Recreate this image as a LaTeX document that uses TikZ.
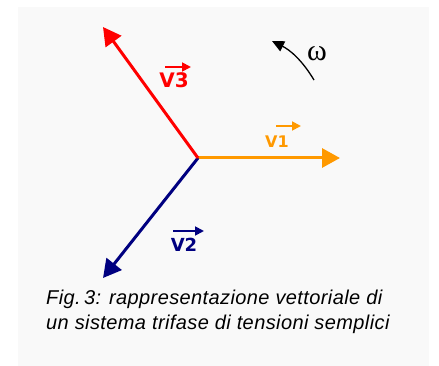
\documentclass[tikz,border=0pt]{standalone}
\usepackage{fontspec}
\setmainfont{Liberation Sans}
\newfontfamily\labfont{DejaVu Sans}
\newfontfamily\omfont{Liberation Serif}
\usetikzlibrary{arrows.meta}
\definecolor{bgc}{HTML}{F9F9F9}
\definecolor{vorange}{HTML}{FF9900}
\definecolor{vred}{HTML}{FF0000}
\definecolor{vnavy}{HTML}{000080}
\tikzset{
  vec/.style={line width=3pt,-{Triangle[length=18pt,width=19pt]}},
  small/.style={line width=1.8pt,-{Triangle[length=9pt,width=9pt]}},
  lab/.style={inner sep=0pt},
}
\begin{document}
\begin{tikzpicture}[x=1pt,y=-1pt]
\useasboundingbox (0,0) rectangle (439,366);
\fill[white] (0,0) rectangle (439,366);
\fill[bgc] (18,7) rectangle (429,366);
\coordinate (O) at (198,158);
\coordinate (t1) at (340,158);
\coordinate (t2) at (103,278);
\coordinate (t3) at (103,27);
\draw[vec,vorange] (O) -- (t1);
\draw[vec,vnavy] (O) -- (t2);
\draw[vec,vred] (O) -- (t3);
% labels
\node[lab,text=vred,font=\labfont\bfseries\fontsize{20}{20}\selectfont] (l3) at (174,80) {V3};
\node[lab,text=vorange,font=\labfont\bfseries\fontsize{16}{16}\selectfont] (l1) at (277,142) {V1};
\node[lab,text=vnavy,font=\labfont\bfseries\fontsize{18}{18}\selectfont] (l2) at (184,245) {V2};
\coordinate (a3s) at (165,67); \coordinate (a3e) at (191,67);
\coordinate (a1s) at (276,126); \coordinate (a1e) at (301,126);
\coordinate (a2s) at (173,231); \coordinate (a2e) at (204,231);
\draw[small,vred] (a3s) -- (a3e);
\draw[small,vorange] (a1s) -- (a1e);
\draw[small,vnavy] (a2s) -- (a2e);
% omega
\coordinate (ws) at (314,80);
\coordinate (we) at (272,41);
\draw[line width=1.3pt,-{Triangle[length=12pt,width=11pt]}] (ws) .. controls (302,60) and (290,50) .. (we);
\node[inner sep=0pt,font=\omfont\fontsize{30}{30}\selectfont] (om) at (317,54) {ω};
% caption
\node[anchor=north west,inner sep=0pt,align=left,font=\itshape\fontsize{20}{25}\selectfont\addfontfeatures{LetterSpace=2}] (cap) at (46,289.5) {Fig.\,3: rappresentazione vettoriale di\\un sistema trifase di tensioni semplici};
\end{tikzpicture}
\end{document}
